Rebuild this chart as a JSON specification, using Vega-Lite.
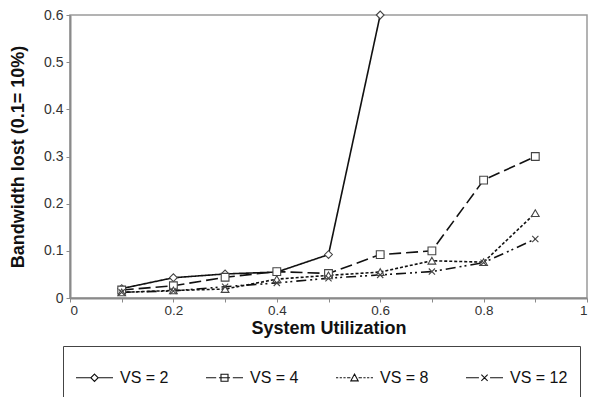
{
  "$schema": "https://vega.github.io/schema/vega-lite/v6.json",
  "width": 517,
  "height": 283,
  "autosize": {"type": "none"},
  "padding": {"left": 70, "top": 15, "right": 5, "bottom": 99},
  "config": {
    "font": "Liberation Sans",
    "view": {"stroke": "#9a9a9a", "strokeWidth": 1.5},
    "axis": {"grid": false, "domainColor": "#8a8a8a", "domainWidth": 2, "tickColor": "#8a8a8a", "tickWidth": 1, "tickSize": 4, "labelColor": "#333", "labelFontSize": 14, "titleColor": "#111", "titleFontSize": 18, "titleFontWeight": "bold"}
  },
  "data": {"values": [
    {"series": "VS = 2", "x": 0.1, "y": 0.02},
    {"series": "VS = 2", "x": 0.2, "y": 0.043},
    {"series": "VS = 2", "x": 0.3, "y": 0.051},
    {"series": "VS = 2", "x": 0.4, "y": 0.055},
    {"series": "VS = 2", "x": 0.5, "y": 0.092},
    {"series": "VS = 2", "x": 0.6, "y": 0.6},
    {"series": "VS = 4", "x": 0.1, "y": 0.017},
    {"series": "VS = 4", "x": 0.2, "y": 0.026},
    {"series": "VS = 4", "x": 0.3, "y": 0.044},
    {"series": "VS = 4", "x": 0.4, "y": 0.056},
    {"series": "VS = 4", "x": 0.5, "y": 0.052},
    {"series": "VS = 4", "x": 0.6, "y": 0.092},
    {"series": "VS = 4", "x": 0.7, "y": 0.1},
    {"series": "VS = 4", "x": 0.8, "y": 0.25},
    {"series": "VS = 4", "x": 0.9, "y": 0.3},
    {"series": "VS = 8", "x": 0.1, "y": 0.012},
    {"series": "VS = 8", "x": 0.2, "y": 0.016},
    {"series": "VS = 8", "x": 0.3, "y": 0.019},
    {"series": "VS = 8", "x": 0.4, "y": 0.04},
    {"series": "VS = 8", "x": 0.5, "y": 0.048},
    {"series": "VS = 8", "x": 0.6, "y": 0.055},
    {"series": "VS = 8", "x": 0.7, "y": 0.079},
    {"series": "VS = 8", "x": 0.8, "y": 0.076},
    {"series": "VS = 8", "x": 0.9, "y": 0.18},
    {"series": "VS = 12", "x": 0.1, "y": 0.012},
    {"series": "VS = 12", "x": 0.2, "y": 0.015},
    {"series": "VS = 12", "x": 0.3, "y": 0.024},
    {"series": "VS = 12", "x": 0.4, "y": 0.032},
    {"series": "VS = 12", "x": 0.5, "y": 0.042},
    {"series": "VS = 12", "x": 0.6, "y": 0.049},
    {"series": "VS = 12", "x": 0.7, "y": 0.056},
    {"series": "VS = 12", "x": 0.8, "y": 0.075},
    {"series": "VS = 12", "x": 0.9, "y": 0.125}
  ]},
  "encoding": {
    "x": {"field": "x", "type": "quantitative", "scale": {"domain": [0, 1], "nice": false},
      "axis": {"title": "System Utilization", "values": [0, 0.1, 0.2, 0.3, 0.4, 0.5, 0.6, 0.7, 0.8, 0.9, 1], "labelExpr": "round(datum.value * 10) % 2 == 0 ? format(datum.value, '~g') : ''", "titlePadding": 3, "labelPadding": 1, "labelFontSize": 13.5}},
    "y": {"field": "y", "type": "quantitative", "scale": {"domain": [0, 0.6], "nice": false},
      "axis": {"title": "Bandwidth lost (0.1= 10%)", "values": [0, 0.1, 0.2, 0.3, 0.4, 0.5, 0.6], "labelExpr": "datum.value == 0 ? '0' : format(datum.value, '.1f')", "titlePadding": 16, "labelPadding": 3}}
  },
  "resolve": {"scale": {"shape": "independent"}, "legend": {"shape": "independent"}},
  "layer": [
    {
      "mark": {"type": "line", "color": "#111", "strokeWidth": 1.6},
      "encoding": {
        "strokeDash": {"field": "series", "type": "nominal", "legend": null,
          "scale": {"domain": ["VS = 2", "VS = 4", "VS = 8", "VS = 12"], "range": [[1, 0], [12, 5], [3, 2], [10, 4, 2, 3, 2, 4]]}}
      }
    },
    {
      "mark": {"type": "point", "filled": false, "fill": "white", "fillOpacity": 1, "stroke": "#444", "strokeWidth": 1.1, "size": 60, "opacity": 1},
      "encoding": {
        "shape": {"field": "series", "type": "nominal", "legend": null,
          "scale": {"domain": ["VS = 2", "VS = 4", "VS = 8", "VS = 12"], "range": ["diamond", "square", "triangle-up", "M-0.8,-0.8L0.8,0.8M-0.8,0.8L0.8,-0.8"]}}
      }
    },
    {
      "transform": [{"filter": "false"}],
      "mark": {"type": "point", "filled": false, "color": "#111", "strokeWidth": 1.1},
      "encoding": {
        "shape": {"field": "series", "type": "nominal",
          "scale": {"domain": ["VS = 2", "VS = 4", "VS = 8", "VS = 12"], "range": [
            "M-1,0L-0.2,0M0.2,0L1,0M0,-0.2L0.2,0L0,0.2L-0.2,0Z",
            "M-1,0L-0.45,0M-0.3,0L0.3,0M0.45,0L1,0M-0.19,-0.19L0.19,-0.19L0.19,0.19L-0.19,0.19Z",
            "M-1,0L-0.88,0M-0.8,0L-0.68,0M-0.6,0L-0.48,0M-0.4,0L-0.22,0M0.22,0L0.4,0M0.48,0L0.6,0M0.68,0L0.8,0M0.88,0L1,0M0,-0.2L0.2,0.17L-0.2,0.17Z",
            "M-1,0L-0.3,0M0.3,0L1,0M-0.17,-0.17L0.17,0.17M-0.17,0.17L0.17,-0.17"
          ]},
          "legend": {
            "title": null,
            "orient": "none",
            "legendX": -7,
            "legendY": 331,
            "direction": "horizontal",
            "columns": 4,
            "columnPadding": 34,
            "padding": 12,
            "strokeColor": "#444",
            "fillColor": "white",
            "labelFontSize": 16,
            "labelColor": "#111",
            "labelOffset": 6,
            "symbolSize": 1369,
            "symbolStrokeWidth": 1.1,
            "symbolStrokeColor": "#111",
            "symbolFillColor": "transparent",
            "symbolOpacity": 1
          }
        }
      }
    }
  ]
}
